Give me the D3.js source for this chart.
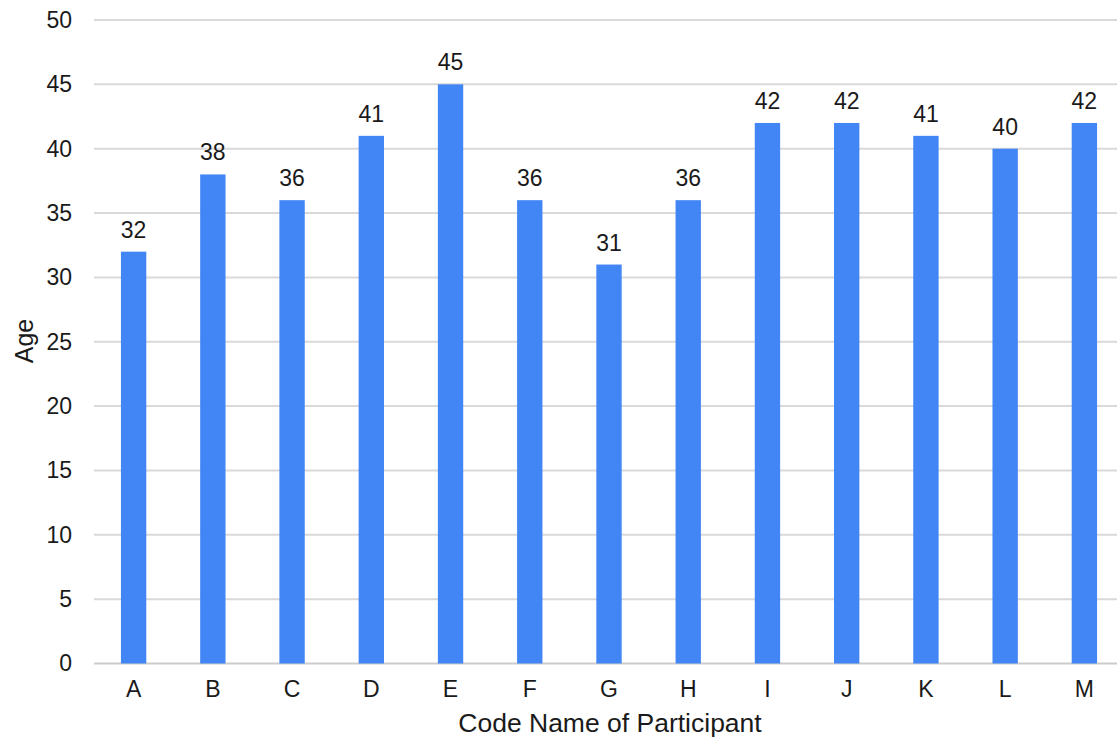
<!DOCTYPE html>
<html>
<head>
<meta charset="utf-8">
<script src="https://cdn.jsdelivr.net/npm/d3@7/dist/d3.min.js"></script>
<style>
  html, body { margin: 0; padding: 0; background: #fff; }
  svg text { font-family: "Liberation Sans", Arial, Helvetica, sans-serif; fill: #1a1a1a; }
</style>
</head>
<body>
<svg id="chart" width="1117" height="748"></svg>
<script>
// Participant codes and their ages
const participants = ["A", "B", "C", "D", "E", "F", "G", "H", "I", "J", "K", "L", "M"];
const ages = [32, 38, 36, 41, 45, 36, 31, 36, 42, 42, 41, 40, 42];
const yTicks = [0, 5, 10, 15, 20, 25, 30, 35, 40, 45, 50];

const svg = d3.select("#chart");
const plotLeft = 94, plotRight = 1124, plotTop = 20, plotBottom = 663.5;

const x = d3.scaleBand().domain(participants).range([plotLeft, plotRight]).paddingInner(0.68).paddingOuter(0.34);
const y = d3.scaleLinear().domain([0, 50]).range([plotBottom, plotTop]);

// Horizontal gridlines
svg.append("g").selectAll("line").data(yTicks).join("line")
  .attr("x1", plotLeft).attr("x2", plotRight)
  .attr("y1", d => y(d)).attr("y2", d => y(d))
  .attr("stroke", d => d === 0 ? "#cccccc" : "#d9d9d9")
  .attr("stroke-width", 2);

// Y axis labels
const yAxis = d3.axisLeft(y).tickValues(yTicks).tickSize(0).tickPadding(22);
svg.append("g").attr("transform", `translate(${plotLeft},0)`).call(yAxis)
  .call(g => g.select(".domain").remove())
  .call(g => g.selectAll("text").attr("font-size", 23).attr("fill", "#1a1a1a"));

// Bars
svg.append("g").selectAll("rect").data(participants).join("rect")
  .attr("x", d => x(d))
  .attr("width", x.bandwidth())
  .attr("y", (d, i) => y(ages[i]))
  .attr("height", (d, i) => y(0) - y(ages[i]))
  .attr("fill", "#4285F4");

// Value labels above bars
svg.append("g").selectAll("text").data(participants).join("text")
  .attr("x", d => x(d) + x.bandwidth() / 2)
  .attr("y", (d, i) => y(ages[i]) - 14)
  .attr("text-anchor", "middle")
  .attr("font-size", 23)
  .text((d, i) => ages[i]);

// X axis labels
const xAxis = d3.axisBottom(x).tickSize(0).tickPadding(17);
svg.append("g").attr("transform", `translate(0,${plotBottom})`).call(xAxis)
  .call(g => g.select(".domain").remove())
  .call(g => g.selectAll("text").attr("font-size", 23).attr("fill", "#1a1a1a"));

// Axis titles
svg.append("text")
  .attr("x", (plotLeft + plotRight) / 2 + 1)
  .attr("y", 732)
  .attr("text-anchor", "middle")
  .attr("font-size", 26.5)
  .text("Code Name of Participant");

svg.append("text")
  .attr("transform", "translate(33,341) rotate(-90)")
  .attr("text-anchor", "middle")
  .attr("font-size", 25)
  .text("Age");
</script>
</body>
</html>
